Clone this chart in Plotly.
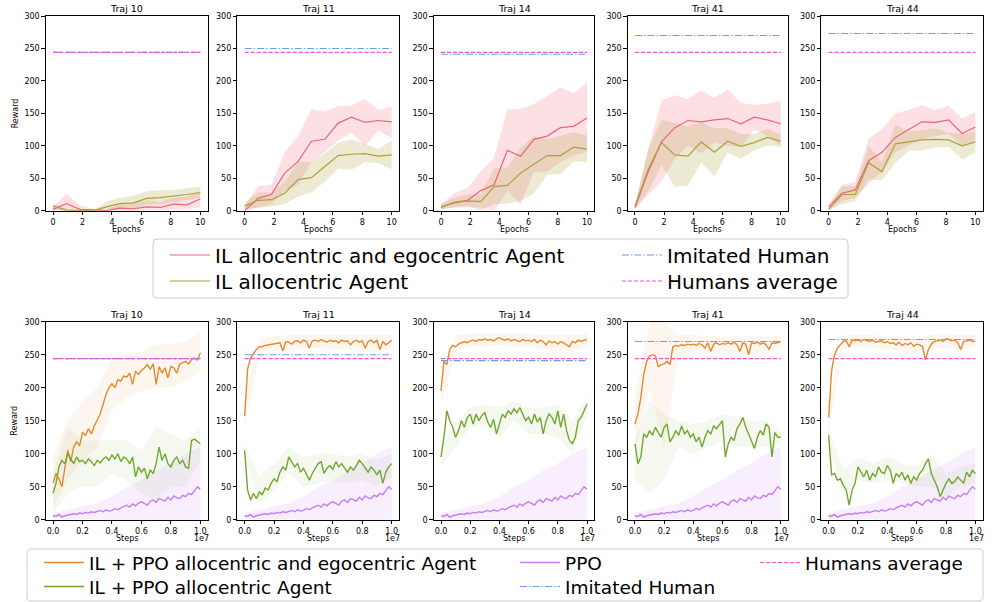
import numpy as np
import plotly.graph_objects as go

# ---------------- data ----------------
trajs = ["Traj 10", "Traj 11", "Traj 14", "Traj 41", "Traj 44"]
humans_average = [244, 244, 244, 244, 244]
imitated_human = [244, 250, 241, 270, 273]

epochs = list(np.linspace(0, 10, 12))
epoch_ticks = [0, 2, 4, 6, 8, 10]

il_ae_mean = [
    [2, 11, 2, 1, 0, 4, 3, 6, 5, 10, 9, 18],
    [0, 19, 25, 58, 76, 107, 110, 135, 144, 136, 139, 137],
    [5, 13, 16, 31, 40, 93, 84, 110, 115, 128, 130, 143],
    [5, 60, 106, 128, 139, 137, 140, 142, 134, 144, 140, 134],
    [6, 27, 32, 77, 90, 113, 125, 137, 136, 140, 119, 129],
]
il_ae_upper = [
    [6, 26, 8, 3, 2, 10, 12, 16, 13, 20, 22, 30],
    [8, 38, 40, 90, 115, 157, 153, 161, 162, 172, 155, 160],
    [10, 27, 35, 60, 82, 156, 157, 164, 177, 190, 181, 197],
    [8, 95, 170, 178, 172, 185, 174, 187, 166, 163, 165, 169],
    [10, 40, 44, 111, 125, 150, 155, 162, 155, 162, 142, 152],
]
il_ae_lower = [
    [0, 0, 0, 0, 0, 0, 0, 0, 0, 2, 2, 5],
    [0, 5, 10, 30, 40, 75, 90, 108, 120, 100, 123, 112],
    [2, 5, 5, 5, 0, 30, 10, 60, 60, 75, 85, 90],
    [2, 25, 45, 80, 100, 88, 105, 100, 98, 125, 115, 100],
    [2, 15, 20, 42, 60, 90, 100, 110, 115, 118, 100, 108],
]
il_a_mean = [
    [7, 1, 0, 0, 6, 11, 12, 19, 20, 22, 25, 28],
    [7, 16, 17, 27, 48, 51, 68, 85, 87, 88, 84, 86],
    [6, 12, 15, 14, 37, 39, 58, 72, 85, 85, 98, 95],
    [7, 64, 105, 86, 84, 106, 90, 107, 99, 105, 113, 107],
    [2, 25, 25, 74, 60, 103, 106, 109, 110, 109, 100, 106],
]
il_a_upper = [
    [11, 3, 1, 1, 14, 20, 23, 30, 32, 32, 35, 37],
    [12, 28, 28, 45, 75, 75, 88, 105, 110, 102, 95, 108],
    [10, 20, 25, 25, 65, 67, 97, 115, 110, 115, 121, 116],
    [10, 95, 140, 135, 130, 137, 127, 127, 118, 118, 126, 117],
    [6, 38, 38, 100, 75, 133, 122, 125, 127, 120, 118, 122],
]
il_a_lower = [
    [3, 0, 0, 0, 1, 3, 3, 10, 10, 14, 17, 20],
    [2, 5, 7, 10, 22, 28, 45, 65, 63, 75, 73, 64],
    [2, 5, 8, 0, 10, 11, 15, 27, 55, 57, 76, 75],
    [3, 30, 70, 37, 39, 74, 53, 90, 80, 93, 100, 98],
    [0, 10, 15, 48, 47, 74, 92, 93, 97, 98, 79, 90],
]

steps = list(np.linspace(0, 1e7, 51))
band_steps = list(np.linspace(0, 1e7, 11))
step_ticks = [0, 2e6, 4e6, 6e6, 8e6, 1e7]
step_ticktext = ["0.0", "0.2", "0.4", "0.6", "0.8", "1.0"]

ppo_ae_mean = [
    [55, 70, 62, 50, 78, 105, 88, 110, 118, 112, 132, 128, 138, 130, 142, 150, 160, 175, 190, 200,
     206, 200, 212, 210, 218, 216, 222, 205, 225, 220, 226, 230, 235, 228, 236, 205, 232, 222, 230, 215,
     232, 230, 222, 236, 238, 240, 236, 243, 245, 242, 253],
    [157, 228, 245, 252, 258, 262, 262, 264, 265, 266, 267, 268, 268, 256, 270, 269, 266, 270, 271, 268,
     272, 270, 260, 271, 272, 270, 273, 271, 269, 272, 270, 271, 268, 272, 270, 271, 265, 270, 272, 269,
     271, 260, 270, 272, 268, 272, 258, 270, 265, 268, 272],
    [195, 240, 235, 258, 264, 262, 266, 268, 270, 268, 271, 272, 270, 273, 272, 274, 272, 273, 271, 274,
     276, 273, 272, 274, 271, 273, 272, 270, 273, 271, 272, 270, 273, 268, 272, 270, 265, 271, 268, 270,
     266, 270, 268, 265, 262, 270, 268, 272, 270, 272, 273],
    [145, 160, 185, 220, 240, 248, 250, 248, 232, 235, 236, 240, 235, 262, 264, 263, 265, 264, 266, 265,
     266, 264, 267, 265, 260, 268, 255, 266, 268, 265, 267, 266, 268, 266, 269, 265, 255, 268, 266, 250,
     268, 267, 269, 266, 268, 265, 258, 268, 267, 269, 270],
    [155, 225, 250, 260, 265, 270, 271, 262, 272, 271, 272, 270, 273, 271, 270, 272, 269, 270, 271, 268,
     270, 267, 268, 265, 269, 264, 267, 265, 268, 263, 266, 265, 262, 242, 258, 266, 270, 271, 272, 270,
     274, 273, 271, 272, 268, 258, 270, 271, 272, 270, 271],
]
ppo_ae_upper = [
    [95, 150, 180, 200, 245, 250, 255, 265, 265, 270, 285],
    [180, 275, 278, 280, 280, 280, 280, 280, 280, 280, 280],
    [215, 280, 282, 282, 284, 282, 282, 280, 280, 280, 282],
    [190, 300, 300, 280, 280, 278, 278, 278, 278, 278, 278],
    [175, 280, 280, 280, 278, 276, 275, 280, 282, 280, 280],
]
ppo_ae_lower = [
    [20, 60, 90, 110, 165, 185, 195, 200, 200, 210, 225],
    [140, 245, 255, 255, 260, 260, 258, 258, 255, 255, 258],
    [175, 255, 262, 262, 265, 262, 262, 258, 255, 255, 262],
    [100, 200, 110, 250, 255, 255, 255, 252, 252, 255, 262],
    [135, 258, 262, 260, 258, 255, 250, 258, 262, 255, 262],
]
ppo_a_mean = [
    [40, 55, 80, 90, 85, 100, 92, 85, 95, 88, 90, 85, 92, 88, 82, 90, 86, 92, 95, 90,
     98, 92, 100, 88, 95, 92, 85, 95, 65, 80, 72, 78, 62, 75, 70, 85, 110, 90, 100, 85,
     80, 90, 95, 85, 90, 80, 78, 120, 122, 118, 115],
    [105, 45, 30, 40, 32, 42, 38, 48, 45, 55, 62, 58, 72, 80, 75, 95, 88, 80, 85, 72,
     78, 68, 60, 70, 78, 85, 88, 70, 78, 82, 76, 88, 80, 85, 78, 72, 80, 75, 82, 90,
     85, 78, 72, 80, 75, 68, 75, 55, 72, 80, 85],
    [95, 125, 165, 150, 140, 125, 135, 150, 140, 155, 160, 145, 160, 150, 158, 162, 148, 140, 152, 130,
     145, 160, 155, 165, 160, 168, 162, 170, 160, 150, 155, 145, 160, 148, 155, 130, 150, 160, 155, 145,
     165, 140, 160, 135, 120, 115, 125, 150, 155, 165, 175],
    [115, 85, 95, 130, 125, 135, 128, 140, 132, 125, 140, 145, 118, 125, 135, 128, 142, 130, 135, 125,
     130, 118, 125, 110, 125, 135, 130, 142, 138, 145, 150, 95, 115, 125, 120, 138, 145, 155, 140, 130,
     120, 108, 125, 135, 128, 145, 140, 95, 132, 125, 125],
    [128, 68, 70, 60, 62, 52, 45, 22, 45, 55, 80, 72, 65, 75, 60, 70, 65, 80, 72, 70,
     82, 75, 55, 70, 65, 72, 60, 68, 55, 65, 60, 70, 75, 85, 92, 70, 60, 50, 35, 45,
     55, 62, 55, 58, 65, 60, 55, 72, 65, 75, 70],
]
ppo_a_upper = [
    [70, 140, 120, 120, 120, 120, 105, 140, 130, 120, 140],
    [115, 65, 85, 110, 95, 100, 100, 95, 100, 90, 100],
    [110, 145, 170, 175, 170, 180, 170, 170, 175, 150, 185],
    [120, 180, 160, 150, 145, 150, 160, 155, 150, 150, 135],
    [140, 75, 95, 85, 95, 85, 80, 100, 70, 80, 85],
]
ppo_a_lower = [
    [10, 40, 50, 50, 70, 60, 40, 30, 50, 50, 90],
    [95, 25, 45, 70, 50, 55, 60, 55, 60, 50, 65],
    [80, 110, 140, 140, 125, 150, 130, 130, 125, 100, 160],
    [60, 40, 60, 110, 100, 110, 120, 110, 110, 110, 115],
    [110, 40, 60, 55, 60, 55, 50, 50, 35, 50, 55],
]
ppo_mean = [6, 5, 8, 4, 6, 7, 8, 9, 8, 10, 9, 11, 10, 12, 11, 12, 14, 12, 15, 13,
            14, 17, 15, 18, 20, 22, 19, 24, 21, 25, 27, 24, 22, 28, 30, 26, 32, 30, 28, 34,
            30, 36, 33, 32, 37, 35, 40, 38, 45, 50, 46]
ppo_upper = [10, 15, 20, 25, 35, 50, 60, 75, 85, 100, 110]
ppo_lower = [0, 0, 0, 0, 0, 0, 0, 0, 0, 0, 0]

# ---------------- styles ----------------
W, H = 995, 602
FONT = "DejaVu Sans"
C_AE = "#ef6479"
C_A = "#ada03c"
C_IMIT = "#6d9eeb"
C_AVG = "#fb4fc8"
C_PAE = "#e38a2f"
C_PA = "#72a72f"
C_PPO = "#c97cf2"

col_px = [(45.7, 207.7), (237.3, 399.0), (433.7, 594.3), (627.7, 788.0), (821.3, 982.7)]
row_px = [(16.0, 210.7), (321.7, 519.7)]


def px_x(p):
    return p / W


def px_y(p):
    return 1 - p / H


def rgba(hexc, a):
    h = hexc.lstrip("#")
    return "rgba(%d,%d,%d,%.3f)" % (int(h[0:2], 16), int(h[2:4], 16), int(h[4:6], 16), a)


fig = go.Figure()
layout = {}


def band(xs, up, lo, color, a, xa, ya):
    fig.add_trace(go.Scatter(
        x=list(xs) + list(xs)[::-1], y=list(up) + list(lo)[::-1],
        fill="toself", fillcolor=rgba(color, a), line=dict(width=0),
        mode="lines", hoverinfo="skip", showlegend=False, xaxis=xa, yaxis=ya))


def line(xs, ys, color, w, xa, ya, name, legend, show, dash="solid"):
    fig.add_trace(go.Scatter(
        x=xs, y=ys, mode="lines", line=dict(color=color, width=w, dash=dash),
        name=name, legend=legend, showlegend=show, xaxis=xa, yaxis=ya))


DASH_AVG = "4px,2px"
DASH_IMIT = "7px,2px,1.5px,2px"

for r in range(2):
    for c in range(5):
        idx = r * 5 + c + 1
        xa = "x" if idx == 1 else "x%d" % idx
        ya = "y" if idx == 1 else "y%d" % idx
        xk = "xaxis" if idx == 1 else "xaxis%d" % idx
        yk = "yaxis" if idx == 1 else "yaxis%d" % idx
        x0, x1 = col_px[c]
        y0, y1 = row_px[r]
        common = dict(showline=True, linecolor="black", linewidth=0.8, mirror=True,
                      ticks="outside", ticklen=3.5, tickwidth=0.8, tickcolor="black",
                      showgrid=False, zeroline=False,
                      tickfont=dict(family=FONT, size=8, color="black"))
        if r == 0:
            layout[xk] = dict(domain=[px_x(x0), px_x(x1)], range=[-0.5, 10.5], anchor=ya,
                              tickvals=epoch_ticks, **common)
        else:
            layout[xk] = dict(domain=[px_x(x0), px_x(x1)], range=[-0.05e7, 1.05e7], anchor=ya,
                              tickvals=step_ticks, ticktext=step_ticktext, **common)
        layout[yk] = dict(domain=[px_y(y1), px_y(y0)], range=[0, 300], anchor=xa,
                          tickvals=[0, 50, 100, 150, 200, 250, 300], **common)
        first = (c == 0)
        if r == 0:
            band(epochs, il_ae_upper[c], il_ae_lower[c], C_AE, 0.2, xa, ya)
            band(epochs, il_a_upper[c], il_a_lower[c], C_A, 0.22, xa, ya)
            line(epochs, il_ae_mean[c], C_AE, 1.2, xa, ya,
                 "IL allocentric and egocentric Agent", "legend", first)
            line(epochs, il_a_mean[c], C_A, 1.2, xa, ya,
                 "IL allocentric Agent", "legend2", first)
            line([0, 10], [imitated_human[c]] * 2, C_IMIT, 1.1, xa, ya,
                 "Imitated Human", "legend3", first, DASH_IMIT)
            line([0, 10], [humans_average[c]] * 2, C_AVG, 1.1, xa, ya,
                 "Humans average", "legend4", first, DASH_AVG)
        else:
            band(band_steps, ppo_ae_upper[c], ppo_ae_lower[c], C_PAE, 0.08, xa, ya)
            band(band_steps, ppo_a_upper[c], ppo_a_lower[c], C_PA, 0.08, xa, ya)
            band(band_steps, ppo_upper, ppo_lower, C_PPO, 0.13, xa, ya)
            line(steps, ppo_ae_mean[c], C_PAE, 1.4, xa, ya,
                 "IL + PPO allocentric and egocentric Agent", "legend5", first)
            line(steps, ppo_a_mean[c], C_PA, 1.4, xa, ya,
                 "IL + PPO allocentric Agent", "legend6", first)
            line(steps, ppo_mean, C_PPO, 1.4, xa, ya, "PPO", "legend7", first)
            line([0, 1e7], [imitated_human[c]] * 2, C_IMIT, 1.1, xa, ya,
                 "Imitated Human", "legend8", first, DASH_IMIT)
            line([0, 1e7], [humans_average[c]] * 2, C_AVG, 1.1, xa, ya,
                 "Humans average", "legend9", first, DASH_AVG)

annotations = []
for r in range(2):
    for c in range(5):
        x0, x1 = col_px[c]
        y0, y1 = row_px[r]
        annotations.append(dict(text=trajs[c], x=px_x((x0 + x1) / 2), y=px_y(y0 - 7.5),
                                xref="paper", yref="paper", showarrow=False,
                                font=dict(family=FONT, size=9.5, color="black"),
                                xanchor="center", yanchor="middle"))
        annotations.append(dict(text="Epochs" if r == 0 else "Steps",
                                x=px_x((x0 + x1) / 2), y=px_y(y1 + 18.5),
                                xref="paper", yref="paper", showarrow=False,
                                font=dict(family=FONT, size=8, color="black"),
                                xanchor="center", yanchor="middle"))
        if r == 1:
            annotations.append(dict(text="1e7", x=px_x(x1 + 3), y=px_y(y1 + 18.5),
                                    xref="paper", yref="paper", showarrow=False,
                                    font=dict(family=FONT, size=8, color="black"),
                                    xanchor="right", yanchor="middle"))
    y0, y1 = row_px[r]
    annotations.append(dict(text="Reward", x=px_x(15), y=px_y((y0 + y1) / 2),
                            xref="paper", yref="paper", showarrow=False, textangle=-90,
                            font=dict(family=FONT, size=8, color="black"),
                            xanchor="center", yanchor="middle"))


def rounded(xa_, ya_, xb_, yb_, rad=4):
    X = px_x
    Y = px_y
    rx = rad
    return ("M %f,%f L %f,%f Q %f,%f %f,%f L %f,%f Q %f,%f %f,%f L %f,%f Q %f,%f %f,%f "
            "L %f,%f Q %f,%f %f,%f Z") % (
        X(xa_ + rx), Y(ya_), X(xb_ - rx), Y(ya_), X(xb_), Y(ya_), X(xb_), Y(ya_ + rx),
        X(xb_), Y(yb_ - rx), X(xb_), Y(yb_), X(xb_ - rx), Y(yb_),
        X(xa_ + rx), Y(yb_), X(xa_), Y(yb_), X(xa_), Y(yb_ - rx),
        X(xa_), Y(ya_ + rx), X(xa_), Y(ya_), X(xa_ + rx), Y(ya_))


shapes = [
    dict(type="path", path=rounded(153, 239, 848, 298), xref="paper", yref="paper",
         line=dict(color="#cccccc", width=1), fillcolor="rgba(255,255,255,0.8)", layer="above"),
    dict(type="path", path=rounded(27, 549, 983, 601), xref="paper", yref="paper",
         line=dict(color="#cccccc", width=1), fillcolor="rgba(255,255,255,0.8)", layer="above"),
]


def leg(xp, yp, size):
    return dict(x=px_x(xp), y=px_y(yp), xanchor="left", yanchor="middle",
                bgcolor="rgba(0,0,0,0)", borderwidth=0, orientation="v",
                font=dict(family=FONT, size=size, color="black"),
                tracegroupgap=0, itemwidth=40, traceorder="normal")


layout.update(
    width=W, height=H,
    margin=dict(l=0, r=0, t=0, b=0, autoexpand=False),
    plot_bgcolor="white", paper_bgcolor="white",
    annotations=annotations, shapes=shapes,
    legend=leg(165, 255, 20),
    legend2=leg(165, 281, 20),
    legend3=leg(617, 255, 20),
    legend4=leg(617, 281, 20),
    legend5=leg(39, 563, 18.5),
    legend6=leg(39, 587, 18.5),
    legend7=leg(515, 563, 18.5),
    legend8=leg(515, 587, 18.5),
    legend9=leg(755, 563, 18.5),
)
fig.update_layout(**layout)
fig.write_html("out.html")
